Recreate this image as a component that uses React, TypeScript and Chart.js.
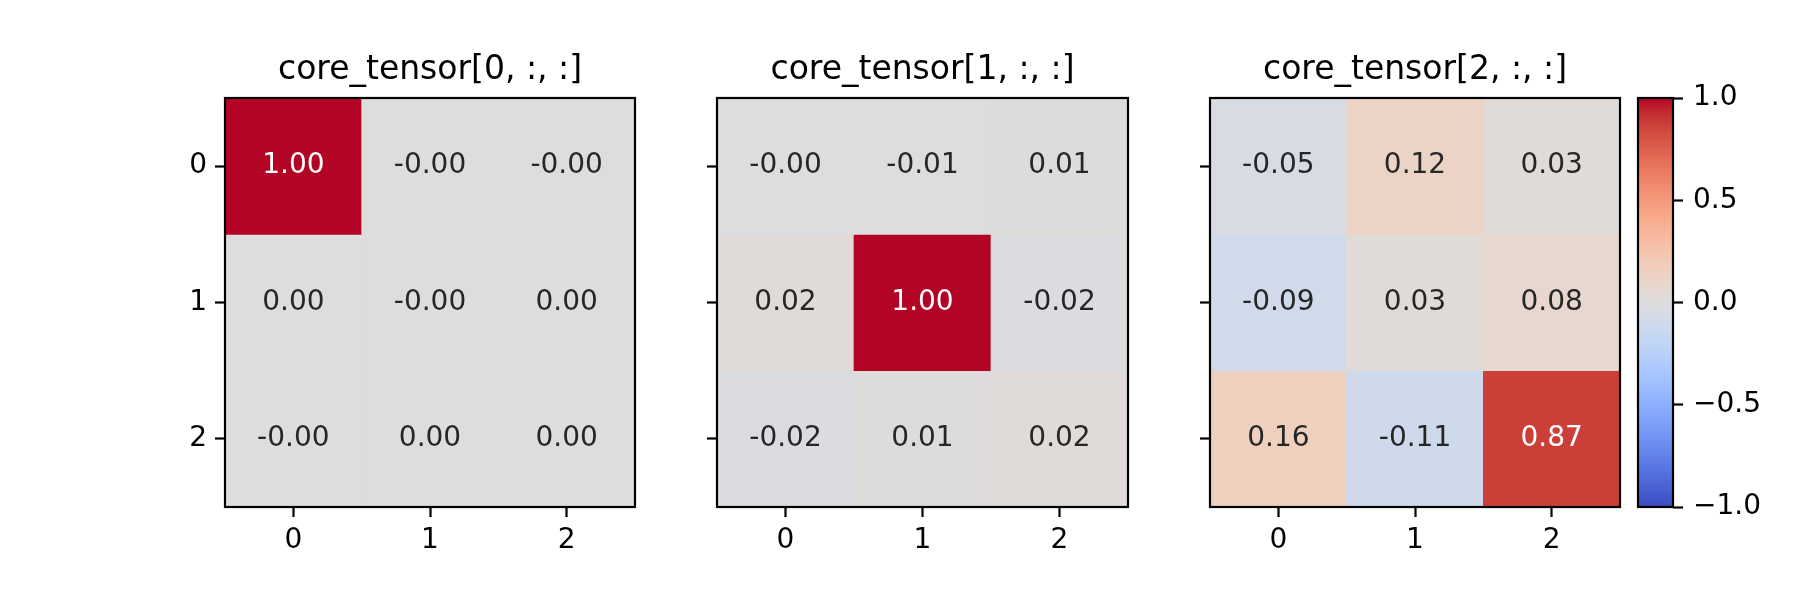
import React, { useEffect, useRef } from "react";
import { Chart, registerables } from "chart.js";

Chart.register(...registerables);

// ---------------- data ----------------
const ROW_LABELS = ["0", "1", "2"];
const COL_LABELS = ["0", "1", "2"];
const PANEL_TITLES = ["core_tensor[0, :, :]", "core_tensor[1, :, :]", "core_tensor[2, :, :]"];
const SLICE_0 = [
  [1.0, -0.001, -0.001],
  [0.001, -0.001, 0.001],
  [-0.001, 0.001, 0.001],
];
const SLICE_1 = [
  [-0.004, -0.01, 0.01],
  [0.02, 1.0, -0.02],
  [-0.02, 0.01, 0.02],
];
const SLICE_2 = [
  [-0.05, 0.12, 0.03],
  [-0.09, 0.03, 0.08],
  [0.16, -0.11, 0.87],
];
const SLICES = [SLICE_0, SLICE_1, SLICE_2];
const COLORBAR_TICKS = [-1, -0.5, 0, 0.5, 1];
const VMIN = -1;
const VMAX = 1;

// coolwarm colormap (Moreland), 33 evenly spaced stops
const COOLWARM = [
  [59, 76, 192], [68, 90, 204], [77, 104, 215], [87, 117, 225], [98, 130, 234],
  [108, 142, 241], [119, 154, 247], [130, 165, 251], [141, 176, 254], [152, 185, 255],
  [163, 194, 255], [174, 201, 253], [184, 208, 249], [194, 213, 244], [204, 217, 238],
  [213, 219, 230], [221, 221, 221], [229, 216, 209], [236, 211, 197], [241, 204, 185],
  [245, 196, 173], [247, 187, 160], [247, 177, 148], [247, 166, 135], [244, 154, 123],
  [241, 141, 111], [236, 127, 99], [229, 112, 88], [222, 96, 77], [213, 80, 66],
  [203, 62, 56], [192, 40, 47], [180, 4, 38],
];

function coolwarm(v: number): string {
  let t = (v - VMIN) / (VMAX - VMIN);
  t = Math.max(0, Math.min(1, t));
  const pos = t * (COOLWARM.length - 1);
  const i = Math.min(Math.floor(pos), COOLWARM.length - 2);
  const f = pos - i;
  const a = COOLWARM[i];
  const b = COOLWARM[i + 1];
  const c = a.map((ai, k) => Math.round(ai + (b[k] - ai) * f));
  return `rgb(${c[0]},${c[1]},${c[2]})`;
}

// ---------------- layout / style ----------------
const FONT = "DejaVu Sans";
const PLOT_TOP = 98;
const PLOT_BOTTOM = 507;
const PANEL_LEFTS = [225, 717, 1210];
const PANEL_WIDTHS = [410, 411, 410];
const SIDE = 100;
const CB_LEFT = 1638;
const CB_WIDTH = 35;
const CB_PAD = 10;
const LINE_W = 2.2;

const framePlugin = {
  id: "frame",
  afterDraw(chart: any) {
    const { ctx, chartArea } = chart;
    ctx.save();
    ctx.strokeStyle = "#000";
    ctx.lineWidth = LINE_W;
    ctx.strokeRect(chartArea.left, chartArea.top, chartArea.right - chartArea.left, chartArea.bottom - chartArea.top);
    ctx.restore();
  },
};

function Panel({ index }: { index: number }) {
  const ref = useRef<HTMLCanvasElement | null>(null);
  const values = SLICES[index];
  const left = PANEL_LEFTS[index] - SIDE;
  const width = PANEL_WIDTHS[index] + 2 * SIDE;
  const showY = index === 0;

  useEffect(() => {
    if (!ref.current) return;
    const annot = {
      id: "annot",
      afterDatasetsDraw(chart: any) {
        const { ctx } = chart;
        const xs = chart.scales.x;
        const ys = chart.scales.y;
        ctx.save();
        ctx.font = `28px "${FONT}"`;
        ctx.textAlign = "center";
        ctx.textBaseline = "middle";
        values.forEach((row, i) =>
          row.forEach((v, j) => {
            ctx.fillStyle = Math.abs(v) > 0.5 ? "#ffffff" : "#262626";
            ctx.fillText(v.toFixed(2), xs.getPixelForValue(j), ys.getPixelForValue(i));
          })
        );
        ctx.restore();
      },
    };
    const gridOpts = {
      drawOnChartArea: false,
      drawTicks: true,
      tickLength: 10,
      tickWidth: LINE_W,
      tickColor: "#000",
      offset: false,
    };
    const chart = new Chart(ref.current, {
      type: "bar",
      data: {
        datasets: values.map((row, i) => ({
          data: row.map((_v, j) => ({ x: j, y: [i - 0.5, i + 0.5] })),
          backgroundColor: row.map((v) => coolwarm(v)),
          borderWidth: 0,
          barPercentage: 1,
          categoryPercentage: 1,
          grouped: false,
        })),
      } as any,
      options: {
        animation: false,
        responsive: false,
        events: [],
        layout: { padding: { left: 0, right: SIDE, top: 0, bottom: 0 } },
        plugins: {
          legend: { display: false },
          tooltip: { enabled: false },
          title: {
            display: true,
            text: PANEL_TITLES[index],
            color: "#000",
            font: { family: FONT, size: 33, weight: "normal" },
            padding: { top: 51, bottom: 7.4 },
            fullSize: false,
          },
        },
        scales: {
          x: {
            type: "linear",
            min: -0.5,
            max: 2.5,
            offset: false,
            afterBuildTicks: (s: any) => {
              s.ticks = COL_LABELS.map((_l, j) => ({ value: j }));
            },
            afterFit: (s: any) => {
              s.height = 600 - PLOT_BOTTOM;
            },
            ticks: {
              callback: (_v: any, idx: number) => COL_LABELS[idx],
              color: "#000",
              font: { family: FONT, size: 28 },
              padding: 7,
              maxRotation: 0,
            },
            grid: gridOpts,
            border: { display: false },
          },
          y: {
            type: "linear",
            reverse: true,
            min: -0.5,
            max: 2.5,
            offset: false,
            afterBuildTicks: (s: any) => {
              s.ticks = ROW_LABELS.map((_l, i) => ({ value: i }));
            },
            afterFit: (s: any) => {
              s.width = SIDE;
            },
            ticks: {
              display: showY,
              callback: (_v: any, idx: number) => ROW_LABELS[idx],
              color: "#000",
              font: { family: FONT, size: 28 },
              padding: 8,
            },
            grid: gridOpts,
            border: { display: false },
          },
        },
      } as any,
      plugins: [annot, framePlugin],
    });
    return () => chart.destroy();
  }, [index]);

  return (
    <canvas
      ref={ref}
      width={width}
      height={600}
      style={{ position: "absolute", left, top: 0, width, height: 600 }}
    />
  );
}

function Colorbar() {
  const ref = useRef<HTMLCanvasElement | null>(null);
  const left = CB_LEFT - CB_PAD;
  const width = 1800 - left;
  useEffect(() => {
    if (!ref.current) return;
    let grad: any = null;
    const chart = new Chart(ref.current, {
      type: "bar",
      data: {
        labels: [""],
        datasets: [
          {
            data: [[VMIN, VMAX]],
            backgroundColor: (c: any) => {
              const area = c.chart.chartArea;
              if (!area) return coolwarm(0);
              if (!grad) {
                grad = c.chart.ctx.createLinearGradient(0, area.bottom, 0, area.top);
                COOLWARM.forEach((rgb, k) => {
                  grad.addColorStop(k / (COOLWARM.length - 1), `rgb(${rgb[0]},${rgb[1]},${rgb[2]})`);
                });
              }
              return grad;
            },
            borderWidth: 0,
            barPercentage: 1,
            categoryPercentage: 1,
          },
        ],
      } as any,
      options: {
        animation: false,
        responsive: false,
        events: [],
        layout: { padding: { left: CB_PAD, right: 0, top: PLOT_TOP, bottom: 600 - PLOT_BOTTOM } },
        plugins: { legend: { display: false }, tooltip: { enabled: false }, title: { display: false } },
        scales: {
          x: { display: false },
          y: {
            position: "right",
            min: VMIN,
            max: VMAX,
            afterBuildTicks: (s: any) => {
              s.ticks = COLORBAR_TICKS.map((v) => ({ value: v }));
            },
            afterFit: (s: any) => {
              s.width = width - CB_PAD - CB_WIDTH;
            },
            ticks: {
              callback: (v: any) => (v < 0 ? "\u2212" : "") + Math.abs(Number(v)).toFixed(1),
              color: "#000",
              font: { family: FONT, size: 28 },
              padding: 10,
            },
            grid: { drawOnChartArea: false, drawTicks: true, tickLength: 10, tickWidth: LINE_W, tickColor: "#000" },
            border: { display: false },
          },
        },
      } as any,
      plugins: [framePlugin],
    });
    return () => chart.destroy();
  }, []);
  return (
    <canvas
      ref={ref}
      width={width}
      height={600}
      style={{ position: "absolute", left, top: 0, width, height: 600 }}
    />
  );
}

export default function App() {
  return (
    <div style={{ position: "fixed", left: 0, top: 0, width: 1800, height: 600, background: "#fff", overflow: "hidden" }}>
      <Panel index={0} />
      <Panel index={1} />
      <Panel index={2} />
      <Colorbar />
    </div>
  );
}
